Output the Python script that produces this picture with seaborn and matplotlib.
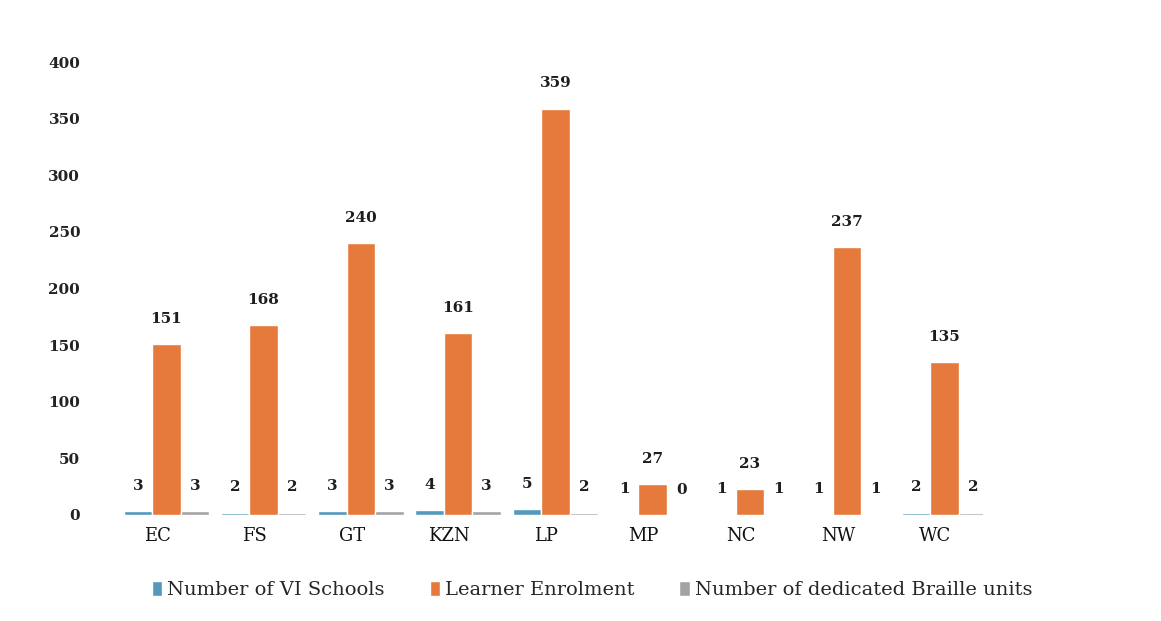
import pandas as pd
import matplotlib.pyplot as plt
import matplotlib.transforms as mtrans
import seaborn as sns

# data
provinces = ['EC', 'FS', 'GT', 'KZN', 'LP', 'MP', 'NC', 'NW', 'WC']
vi_schools = [3, 2, 3, 4, 5, 1, 1, 1, 2]
enrolment = [151, 168, 240, 161, 359, 27, 23, 237, 135]
braille_units = [3, 2, 3, 3, 2, 0, 1, 1, 2]
series_names = ['Number of VI Schools', 'Learner Enrolment', 'Number of dedicated Braille units']

# long format for seaborn
df = pd.DataFrame({
    'province': provinces * 3,
    'value': vi_schools + enrolment + braille_units,
    'series': [s for s in series_names for _ in provinces],
})

sns.set_style('white')
plt.rcParams['font.family'] = ['DejaVu Serif']

colors = ['#5498bb', '#e67a3c', '#a3a3a3']

fig = plt.figure(figsize=(11.61, 6.21), dpi=100)
ax = fig.add_axes([0.093, 0.171, 0.754, 0.729])

sns.barplot(data=df, x='province', y='value', hue='series', palette=colors,
            width=0.88, saturation=1, ax=ax, legend=True)

# value labels above each bar
for cont in ax.containers:
    ax.bar_label(cont, padding=13, fontsize=11, fontweight='bold', color='#1e1e1e')

ax.set_ylim(0, 400)
ax.set_yticks(range(0, 401, 50))
# bar groups sit a bit right of the province names
ax.set_xlim(-0.6, len(provinces) - 0.6)
ax.set_xlabel('')
ax.set_ylabel('')
ax.tick_params(axis='y', labelsize=11, length=0, pad=20)
ax.tick_params(axis='x', labelsize=13, length=0, pad=9)
for lab in ax.get_yticklabels():
    lab.set_fontweight('bold')
    lab.set_color('#222222')
shift = mtrans.ScaledTranslation(-9 / 100, 0, fig.dpi_scale_trans)
for lab in ax.get_xticklabels():
    lab.set_color('#111111')
    lab.set_transform(lab.get_transform() + shift)
sns.despine(left=True, bottom=True)

# legend along the bottom
handles, labels = ax.get_legend_handles_labels()
ax.get_legend().remove()
fig.legend(handles, labels, loc='center', bbox_to_anchor=(0.51, 0.05),
           ncol=3, frameon=False, fontsize=14, handlelength=0.55, handleheight=0.8,
           handletextpad=0.25, columnspacing=2.3)

plt.savefig('out.png', dpi=100)
